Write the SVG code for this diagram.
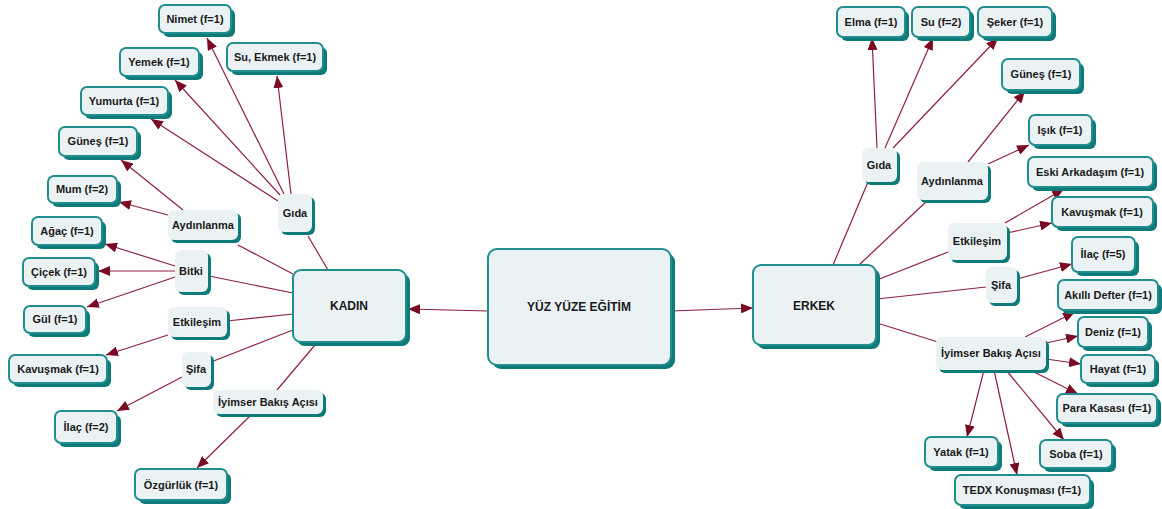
<svg xmlns="http://www.w3.org/2000/svg" width="1162" height="509" viewBox="0 0 1162 509">
<defs>
<style>
.sh{fill:#0f7a7a}
.bx{fill:#eaf2f4;stroke:#218e8e;stroke-width:2}
.md{fill:#eaf2f4}
.t{font-family:"Liberation Sans",Arial,sans-serif;font-weight:bold;font-size:11px;fill:#1a1a1a;text-anchor:middle}
.tm{font-family:"Liberation Sans",Arial,sans-serif;font-weight:bold;font-size:12px;fill:#1a1a1a;text-anchor:middle}
.c line{stroke:#8e2040;stroke-width:1.2}
.c line.a{marker-end:url(#ah)}
</style>
<marker id="ah" markerUnits="userSpaceOnUse" markerWidth="12" markerHeight="10" viewBox="0 0 12 10" refX="12" refY="5" orient="auto">
<path d="M0,0 L12,5 L0,10 Z" fill="#7a0a24"/>
</marker>
</defs>
<rect width="1162" height="509" fill="#ffffff"/>
<g id="connectors" class="c">
<line class="a" x1="488" y1="311" x2="408" y2="309"/>
<line class="a" x1="671" y1="311" x2="753" y2="308"/>
<line x1="308" y1="236" x2="328" y2="270"/>
<line class="a" x1="284" y1="194" x2="207" y2="38"/>
<line class="a" x1="291" y1="194" x2="277" y2="76"/>
<line class="a" x1="280" y1="195" x2="175" y2="80"/>
<line class="a" x1="278" y1="201" x2="151" y2="119"/>
<line class="a" x1="183" y1="210" x2="121" y2="160"/>
<line class="a" x1="168" y1="215" x2="119" y2="202"/>
<line x1="238" y1="245" x2="293" y2="274"/>
<line class="a" x1="175" y1="266" x2="105" y2="244"/>
<line class="a" x1="175" y1="271" x2="98" y2="271"/>
<line class="a" x1="175" y1="277" x2="87" y2="307"/>
<line x1="209" y1="276" x2="293" y2="293"/>
<line x1="227" y1="321" x2="293" y2="314"/>
<line class="a" x1="168" y1="335" x2="106" y2="355"/>
<line x1="211" y1="362" x2="293" y2="330"/>
<line class="a" x1="182" y1="377" x2="117" y2="411"/>
<line x1="315" y1="345" x2="277" y2="390"/>
<line class="a" x1="252" y1="414" x2="197" y2="468"/>
<line x1="868" y1="182" x2="833" y2="265"/>
<line class="a" x1="877" y1="148" x2="872" y2="38"/>
<line class="a" x1="885" y1="148" x2="933" y2="38"/>
<line class="a" x1="893" y1="148" x2="998" y2="38"/>
<line x1="928" y1="200" x2="859" y2="265"/>
<line class="a" x1="968" y1="162" x2="1025" y2="91"/>
<line class="a" x1="988" y1="164" x2="1029" y2="145"/>
<line x1="948" y1="252" x2="877" y2="280"/>
<line class="a" x1="1005" y1="223" x2="1064" y2="189"/>
<line class="a" x1="1007" y1="233" x2="1052" y2="223"/>
<line x1="986" y1="287" x2="877" y2="299"/>
<line class="a" x1="1017" y1="279" x2="1072" y2="264"/>
<line x1="877" y1="323" x2="938" y2="342"/>
<line class="a" x1="1025" y1="337" x2="1075" y2="312"/>
<line class="a" x1="1046" y1="343" x2="1078" y2="336"/>
<line class="a" x1="1046" y1="359" x2="1081" y2="364"/>
<line class="a" x1="1030" y1="370" x2="1078" y2="394"/>
<line class="a" x1="1006" y1="370" x2="1064" y2="440"/>
<line class="a" x1="994" y1="370" x2="1017" y2="475"/>
<line class="a" x1="984" y1="370" x2="967" y2="437"/>
</g>
<g id="n-yuz"><rect class="sh" x="492" y="253" width="183" height="116" rx="9"/><rect class="bx" x="488" y="249" width="183" height="116" rx="9"/><text class="tm" x="579" y="311">YÜZ YÜZE EĞİTİM</text></g>
<g id="n-kadin"><rect class="sh" x="297" y="274" width="113" height="72" rx="8"/><rect class="bx" x="293" y="270" width="113" height="72" rx="8"/><text class="tm" x="349" y="310">KADIN</text></g>
<g id="n-erkek"><rect class="sh" x="757" y="269" width="123" height="80" rx="8"/><rect class="bx" x="753" y="265" width="123" height="80" rx="8"/><text class="tm" x="814" y="310">ERKEK</text></g>

<g id="k-gida"><rect class="sh" x="281" y="197" width="34" height="38" rx="6"/><rect class="md" x="278" y="194" width="34" height="38" rx="6"/><text class="t" x="295" y="217">Gıda</text></g>
<g id="k-aydinlanma"><rect class="sh" x="171" y="213" width="70" height="30" rx="6"/><rect class="md" x="168" y="210" width="70" height="30" rx="6"/><text class="t" x="203" y="229">Aydınlanma</text></g>
<g id="k-bitki"><rect class="sh" x="178" y="253" width="33" height="42" rx="6"/><rect class="md" x="175" y="250" width="33" height="42" rx="6"/><text class="t" x="191" y="275">Bitki</text></g>
<g id="k-etkilesim"><rect class="sh" x="171" y="310" width="59" height="30" rx="6"/><rect class="md" x="168" y="307" width="59" height="30" rx="6"/><text class="t" x="197" y="326">Etkileşim</text></g>
<g id="k-sifa"><rect class="sh" x="185" y="355" width="29" height="35" rx="6"/><rect class="md" x="182" y="352" width="29" height="35" rx="6"/><text class="t" x="196" y="373">Şifa</text></g>
<g id="k-iyimser"><rect class="sh" x="216" y="393" width="110" height="24" rx="6"/><rect class="md" x="213" y="390" width="110" height="24" rx="6"/><text class="t" x="268" y="406">İyimser Bakış Açısı</text></g>

<g id="k-nimet"><rect class="sh" x="163" y="9" width="72" height="28" rx="6"/><rect class="bx" x="159" y="5" width="72" height="28" rx="6"/><text class="t" x="195" y="23">Nimet (f=1)</text></g>
<g id="k-suekmek"><rect class="sh" x="231" y="47" width="96" height="28" rx="6"/><rect class="bx" x="227" y="43" width="96" height="28" rx="6"/><text class="t" x="275" y="61">Su, Ekmek (f=1)</text></g>
<g id="k-yemek"><rect class="sh" x="124" y="52" width="79" height="28" rx="6"/><rect class="bx" x="120" y="48" width="79" height="28" rx="6"/><text class="t" x="159" y="66">Yemek (f=1)</text></g>
<g id="k-yumurta"><rect class="sh" x="85" y="91" width="87" height="28" rx="6"/><rect class="bx" x="81" y="87" width="87" height="28" rx="6"/><text class="t" x="124" y="105">Yumurta (f=1)</text></g>
<g id="k-gunes"><rect class="sh" x="63" y="131" width="78" height="29" rx="6"/><rect class="bx" x="59" y="127" width="78" height="29" rx="6"/><text class="t" x="98" y="145">Güneş (f=1)</text></g>
<g id="k-mum"><rect class="sh" x="52" y="180" width="69" height="27" rx="6"/><rect class="bx" x="48" y="176" width="69" height="27" rx="6"/><text class="t" x="82" y="193">Mum (f=2)</text></g>
<g id="k-agac"><rect class="sh" x="36" y="221" width="70" height="28" rx="6"/><rect class="bx" x="32" y="217" width="70" height="28" rx="6"/><text class="t" x="67" y="235">Ağaç (f=1)</text></g>
<g id="k-cicek"><rect class="sh" x="27" y="262" width="72" height="28" rx="6"/><rect class="bx" x="23" y="258" width="72" height="28" rx="6"/><text class="t" x="59" y="276">Çiçek (f=1)</text></g>
<g id="k-gul"><rect class="sh" x="28" y="310" width="62" height="27" rx="6"/><rect class="bx" x="24" y="306" width="62" height="27" rx="6"/><text class="t" x="55" y="323">Gül (f=1)</text></g>
<g id="k-kavusmak"><rect class="sh" x="13" y="359" width="98" height="28" rx="6"/><rect class="bx" x="9" y="355" width="98" height="28" rx="6"/><text class="t" x="58" y="373">Kavuşmak (f=1)</text></g>
<g id="k-ilac"><rect class="sh" x="59" y="415" width="62" height="32" rx="6"/><rect class="bx" x="55" y="411" width="62" height="32" rx="6"/><text class="t" x="86" y="431">İlaç (f=2)</text></g>
<g id="k-ozgurluk"><rect class="sh" x="139" y="473" width="92" height="31" rx="6"/><rect class="bx" x="135" y="469" width="92" height="31" rx="6"/><text class="t" x="181" y="489">Özgürlük (f=1)</text></g>

<g id="e-gida"><rect class="sh" x="865" y="151" width="35" height="34" rx="6"/><rect class="md" x="862" y="148" width="35" height="34" rx="6"/><text class="t" x="879" y="169">Gıda</text></g>
<g id="e-aydinlanma"><rect class="sh" x="920" y="165" width="71" height="38" rx="6"/><rect class="md" x="917" y="162" width="71" height="38" rx="6"/><text class="t" x="952" y="185">Aydınlanma</text></g>
<g id="e-etkilesim"><rect class="sh" x="951" y="226" width="59" height="37" rx="6"/><rect class="md" x="948" y="223" width="59" height="37" rx="6"/><text class="t" x="977" y="245">Etkileşim</text></g>
<g id="e-sifa"><rect class="sh" x="989" y="270" width="31" height="36" rx="6"/><rect class="md" x="986" y="267" width="31" height="36" rx="6"/><text class="t" x="1001" y="289">Şifa</text></g>
<g id="e-iyimser"><rect class="sh" x="939" y="340" width="110" height="33" rx="6"/><rect class="md" x="936" y="337" width="110" height="33" rx="6"/><text class="t" x="991" y="357">İyimser Bakış Açısı</text></g>

<g id="e-elma"><rect class="sh" x="841" y="11" width="68" height="30" rx="6"/><rect class="bx" x="837" y="7" width="68" height="30" rx="6"/><text class="t" x="871" y="26">Elma (f=1)</text></g>
<g id="e-su"><rect class="sh" x="916" y="11" width="58" height="30" rx="6"/><rect class="bx" x="912" y="7" width="58" height="30" rx="6"/><text class="t" x="941" y="26">Su (f=2)</text></g>
<g id="e-seker"><rect class="sh" x="982" y="11" width="74" height="30" rx="6"/><rect class="bx" x="978" y="7" width="74" height="30" rx="6"/><text class="t" x="1015" y="26">Şeker (f=1)</text></g>
<g id="e-gunes"><rect class="sh" x="1006" y="63" width="78" height="31" rx="6"/><rect class="bx" x="1002" y="59" width="78" height="31" rx="6"/><text class="t" x="1041" y="78">Güneş (f=1)</text></g>
<g id="e-isik"><rect class="sh" x="1033" y="119" width="63" height="30" rx="6"/><rect class="bx" x="1029" y="115" width="63" height="30" rx="6"/><text class="t" x="1060" y="134">Işık (f=1)</text></g>
<g id="e-eski"><rect class="sh" x="1032" y="161" width="125" height="30" rx="6"/><rect class="bx" x="1028" y="157" width="125" height="30" rx="6"/><text class="t" x="1090" y="176">Eski Arkadaşım (f=1)</text></g>
<g id="e-kavusmak"><rect class="sh" x="1056" y="201" width="101" height="30" rx="6"/><rect class="bx" x="1052" y="197" width="101" height="30" rx="6"/><text class="t" x="1102" y="216">Kavuşmak (f=1)</text></g>
<g id="e-ilac"><rect class="sh" x="1076" y="241" width="63" height="35" rx="6"/><rect class="bx" x="1072" y="237" width="63" height="35" rx="6"/><text class="t" x="1103" y="258">İlaç (f=5)</text></g>
<g id="e-akilli"><rect class="sh" x="1062" y="284" width="100" height="30" rx="6"/><rect class="bx" x="1058" y="280" width="100" height="30" rx="6"/><text class="t" x="1108" y="299">Akıllı Defter (f=1)</text></g>
<g id="e-deniz"><rect class="sh" x="1082" y="321" width="70" height="30" rx="6"/><rect class="bx" x="1078" y="317" width="70" height="30" rx="6"/><text class="t" x="1113" y="336">Deniz (f=1)</text></g>
<g id="e-hayat"><rect class="sh" x="1085" y="359" width="74" height="28" rx="6"/><rect class="bx" x="1081" y="355" width="74" height="28" rx="6"/><text class="t" x="1118" y="373">Hayat (f=1)</text></g>
<g id="e-para"><rect class="sh" x="1061" y="398" width="100" height="29" rx="6"/><rect class="bx" x="1057" y="394" width="100" height="29" rx="6"/><text class="t" x="1107" y="412">Para Kasası (f=1)</text></g>
<g id="e-soba"><rect class="sh" x="1044" y="444" width="72" height="28" rx="6"/><rect class="bx" x="1040" y="440" width="72" height="28" rx="6"/><text class="t" x="1076" y="458">Soba (f=1)</text></g>
<g id="e-yatak"><rect class="sh" x="929" y="441" width="73" height="30" rx="6"/><rect class="bx" x="925" y="437" width="73" height="30" rx="6"/><text class="t" x="961" y="456">Yatak (f=1)</text></g>
<g id="e-tedx"><rect class="sh" x="959" y="479" width="135" height="30" rx="6"/><rect class="bx" x="955" y="475" width="135" height="30" rx="6"/><text class="t" x="1022" y="494">TEDX Konuşması (f=1)</text></g>
</svg>
